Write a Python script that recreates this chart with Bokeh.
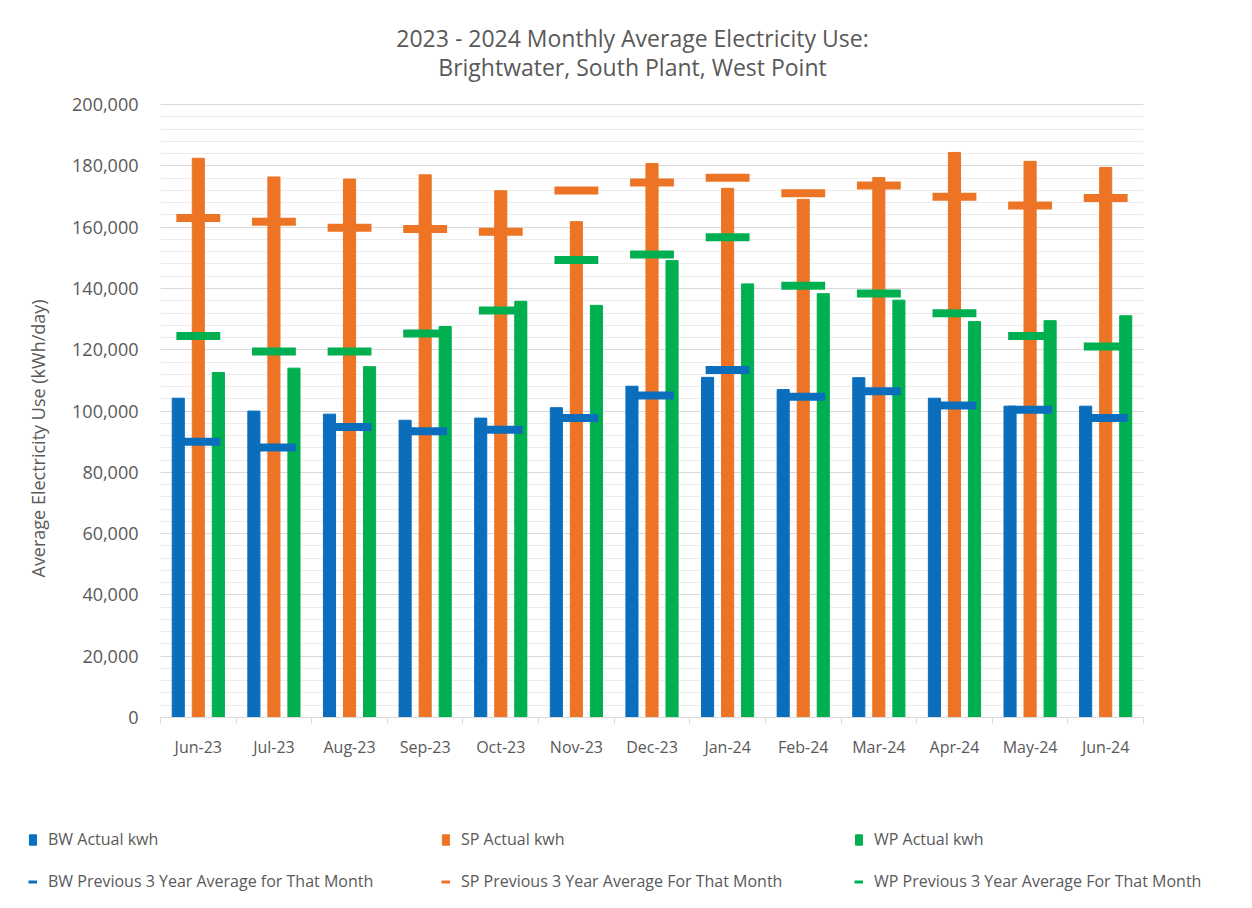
import numpy as np
from bokeh.plotting import figure
from bokeh.models import (ColumnDataSource, FixedTicker, SingleIntervalTicker, NumeralTickFormatter,
                          Label, Legend, LegendItem, Range1d, Title)
from bokeh.transform import dodge
from bokeh.embed import file_html
from bokeh.resources import INLINE

months = ["Jun-23", "Jul-23", "Aug-23", "Sep-23", "Oct-23", "Nov-23", "Dec-23",
          "Jan-24", "Feb-24", "Mar-24", "Apr-24", "May-24", "Jun-24"]
bw_actual = [104200, 100000, 99000, 97000, 97700, 101100, 108100, 111000, 107000, 110900, 104200, 101600, 101600]
sp_actual = [182500, 176400, 175700, 177100, 171900, 161800, 180800, 172700, 169100, 176200, 184400, 181500, 179500]
wp_actual = [112600, 114000, 114500, 127600, 135800, 134500, 149100, 141500, 138300, 136200, 129200, 129500, 131100]
bw_avg = [90000, 88100, 94800, 93400, 93900, 97700, 105100, 113400, 104700, 106500, 101800, 100400, 97700]
sp_avg = [163000, 161800, 159800, 159400, 158500, 172000, 174600, 176100, 171100, 173600, 169900, 167100, 169500]
wp_avg = [124500, 119400, 119400, 125300, 132800, 149300, 151100, 156700, 140900, 138400, 131900, 124500, 121100]

BLUE = "#0A6EBD"
ORANGE = "#EC7424"
GREEN = "#00B050"
TXT = "#595959"
FONT = "Open Sans"

centers = [i + 0.5 for i in range(len(months))]
src = ColumnDataSource(dict(x=centers, bw=bw_actual, sp=sp_actual, wp=wp_actual,
                            bwa=bw_avg, spa=sp_avg, wpa=wp_avg))

W = 1250
H1 = 760
FL, FR, FB = 160, 1143, 723
PX = 200000 / 618
Y_TOP = FB * PX

p = figure(width=W, height=H1, output_backend="svg", toolbar_location=None,
           x_range=Range1d(0, len(months)), y_range=Range1d(0, Y_TOP),
           min_border_left=FL, min_border_right=W - FR,
           min_border_top=0, min_border_bottom=H1 - FB)
p.outline_line_color = None
p.background_fill_color = "white"
p.border_fill_color = "white"

p.vbar(x=dodge("x", -0.265), top="bw", width=0.16, source=src, color=BLUE)
p.vbar(x="x", top="sp", width=0.16, source=src, color=ORANGE)
p.vbar(x=dodge("x", 0.265), top="wp", width=0.16, source=src, color=GREEN)

for col, c in (("bwa", BLUE), ("spa", ORANGE), ("wpa", GREEN)):
    p.rect(x="x", y=col, width=0.58, height=8, height_units="screen", source=src,
           fill_color=c, line_color=None)

xa = p.xaxis[0]
xa.ticker = FixedTicker(ticks=centers, minor_ticks=list(range(len(months) + 1)))
xa.major_label_overrides = {c: m for c, m in zip(centers, months)}
xa.major_tick_line_color = None
xa.major_tick_out = 0
xa.major_tick_in = 0
xa.minor_tick_line_color = "#d9d9d9"
xa.minor_tick_out = 6
xa.minor_tick_in = 0
xa.axis_line_color = "#d9d9d9"
xa.major_label_standoff = 12
xa.major_label_text_font = FONT
xa.major_label_text_font_size = "16px"
xa.major_label_text_color = TXT

ya = p.yaxis[0]
ya.bounds = (0, 200000)
ya.ticker = SingleIntervalTicker(interval=20000, num_minor_ticks=5)
ya.formatter = NumeralTickFormatter(format="0,0")
ya.axis_line_color = None
ya.major_tick_line_color = None
ya.minor_tick_line_color = None
ya.major_tick_out = 0
ya.major_label_standoff = 18
ya.major_label_text_font = FONT
ya.major_label_text_font_size = "18px"
ya.major_label_text_color = TXT

p.xgrid.grid_line_color = None
p.ygrid.bounds = (0, 200000)
p.ygrid.grid_line_color = "#d9d9d9"
p.ygrid.minor_grid_line_color = "#ececec"

unit_x = (FR - FL) / len(months)
tx = (632 - FL) / unit_x
p.add_layout(Label(x=tx, y=(FB - 38) * PX, text="2023 - 2024 Monthly Average Electricity Use:",
                   text_align="center", text_baseline="middle", text_font=FONT,
                   text_font_size="23px", text_color=TXT))
p.add_layout(Label(x=tx, y=(FB - 67) * PX, text="Brightwater, South Plant, West Point",
                   text_align="center", text_baseline="middle", text_font=FONT,
                   text_font_size="23px", text_color=TXT))

p.add_layout(Title(text="Average Electricity Use (kWh/day)", align="left", offset=140,
                   standoff=40, text_font=FONT, text_font_size="18px",
                   text_font_style="normal", text_color=TXT), "left")

# legend strip below the chart (separate root so its frame spans the full width)
H2 = 908 - H1
lg = figure(width=W, height=H2, output_backend="svg", toolbar_location=None,
            x_range=Range1d(0, 1), y_range=Range1d(0, 1),
            x_axis_type=None, y_axis_type=None,
            min_border_left=0, min_border_right=0, min_border_top=0, min_border_bottom=0)
lg.outline_line_color = None
lg.grid.grid_line_color = None
lg.background_fill_color = "white"
lg.border_fill_color = "white"
off = ColumnDataSource(dict(x=[-10, -9], y=[0, 0]))   # outside the view, only feeds the legend
lb1 = lg.vbar(x="x", top="y", width=0.1, source=off, color=BLUE)
lb2 = lg.vbar(x="x", top="y", width=0.1, source=off, color=ORANGE)
lb3 = lg.vbar(x="x", top="y", width=0.1, source=off, color=GREEN)
ll1 = lg.line(x="x", y="y", source=off, line_color=BLUE, line_width=3)
ll2 = lg.line(x="x", y="y", source=off, line_color=ORANGE, line_width=3)
ll3 = lg.line(x="x", y="y", source=off, line_color=GREEN, line_width=3)

legend = Legend(items=[
    LegendItem(label="BW Actual kwh", renderers=[lb1]),
    LegendItem(label="SP Actual kwh", renderers=[lb2]),
    LegendItem(label="WP Actual kwh", renderers=[lb3]),
    LegendItem(label="BW Previous 3 Year Average for That Month", renderers=[ll1]),
    LegendItem(label="SP Previous 3 Year Average For That Month", renderers=[ll2]),
    LegendItem(label="WP Previous 3 Year Average For That Month", renderers=[ll3]),
], location=(28, 16), orientation="horizontal", ncols=3)
legend.padding = 0
legend.margin = 0
legend.border_line_color = None
legend.background_fill_alpha = 0
legend.glyph_width = 9
legend.glyph_height = 13
legend.label_standoff = 11
legend.label_width = 373
legend.label_height = 20
legend.spacing = 20
legend.label_text_font = FONT
legend.label_text_font_size = "16px"
legend.label_text_color = TXT
lg.add_layout(legend, "center")

open("out.html", "w").write(file_html([p, lg], INLINE))
